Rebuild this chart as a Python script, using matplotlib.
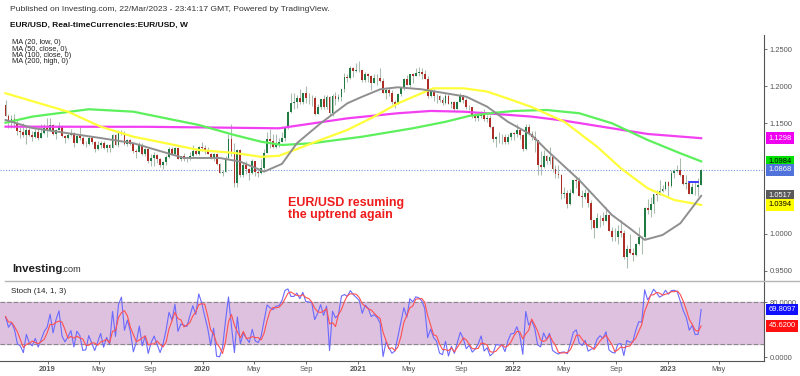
import matplotlib.pyplot as plt
import matplotlib.transforms as mtransforms
import numpy as np
import pandas as pd

plt.rcParams['font.family'] = ['Liberation Sans', 'DejaVu Sans']

# Weekly EUR/USD bars, first bar is the week of 24 Sep 2018.
first_week = '2018-09-24'
first_open = 1.1745

closes = [
    1.1605, 1.1525, 1.1560, 1.1510, 1.1400, 1.1385, 1.1335, 1.1415, 1.1340, 1.1315,
    1.1380, 1.1305, 1.1370, 1.1440, 1.1395, 1.1470, 1.1360, 1.1410, 1.1455, 1.1325,
    1.1295, 1.1335, 1.1365, 1.1235, 1.1325, 1.1300, 1.1215, 1.1218, 1.1300, 1.1245,
    1.1150, 1.1200, 1.1235, 1.1160, 1.1205, 1.1170, 1.1335, 1.1210, 1.1370, 1.1372,
    1.1225, 1.1270, 1.1220, 1.1125, 1.1110, 1.1200, 1.1090, 1.1145, 1.0990, 1.1030,
    1.1075, 1.1015, 1.0940, 1.0980, 1.1040, 1.1145, 1.1080, 1.1165, 1.1020, 1.1050,
    1.1020, 1.1015, 1.1060, 1.1120, 1.1080, 1.1175, 1.1165, 1.1120, 1.1090, 1.1025,
    1.1090, 1.0945, 1.0830, 1.0845, 1.1025, 1.1285, 1.1105, 1.0695, 1.1140, 1.0805,
    1.0935, 1.0875, 1.0820, 1.0985, 1.0840, 1.0820, 1.0900, 1.1100, 1.1290, 1.1255,
    1.1180, 1.1220, 1.1245, 1.1300, 1.1430, 1.1655, 1.1780, 1.1785, 1.1840, 1.1795,
    1.1905, 1.1840, 1.1845, 1.1840, 1.1630, 1.1715, 1.1830, 1.1715, 1.1860, 1.1645,
    1.1875, 1.1835, 1.1855, 1.1965, 1.2125, 1.2110, 1.2255, 1.2215, 1.2218, 1.2220,
    1.2080, 1.2170, 1.2135, 1.2045, 1.2120, 1.2118, 1.2075, 1.1915, 1.1950, 1.1905,
    1.1795, 1.1765, 1.1900, 1.1980, 1.2095, 1.2020, 1.2165, 1.2140, 1.2180, 1.2190,
    1.2165, 1.2105, 1.1865, 1.1935, 1.1865, 1.1875, 1.1810, 1.1770, 1.1870, 1.1760,
    1.1795, 1.1700, 1.1795, 1.1880, 1.1815, 1.1725, 1.1720, 1.1595, 1.1575, 1.1600,
    1.1645, 1.1560, 1.1570, 1.1445, 1.1290, 1.1320, 1.1315, 1.1312, 1.1240, 1.1320,
    1.1370, 1.1360, 1.1410, 1.1345, 1.1145, 1.1450, 1.1350, 1.1320, 1.1270, 1.0930,
    1.0910, 1.1050, 1.0985, 1.1045, 1.0875, 1.0810, 1.0795, 1.0545, 1.0550, 1.0410,
    1.0560, 1.0730, 1.0720, 1.0520, 1.0495, 1.0555, 1.0425, 1.0185, 1.0085, 1.0210,
    1.0220, 1.0180, 1.0260, 1.0040, 0.9965, 0.9955, 1.0040, 1.0015, 0.9690, 0.9800,
    0.9740, 0.9720, 0.9860, 0.9965, 0.9960, 1.0350, 1.0325, 1.0400, 1.0535, 1.0530,
    1.0585, 1.0615, 1.0705, 1.0645, 1.0830, 1.0855, 1.0870, 1.0795, 1.0680, 1.0695,
    1.0545, 1.0635, 1.0640, 1.0670, 1.0868,
]
highs = [
    1.1815, 1.1625, 1.1610, 1.1622, 1.1545, 1.1455, 1.1500, 1.1472, 1.1472, 1.1400,
    1.1420, 1.1445, 1.1485, 1.1485, 1.1570, 1.1570, 1.1490, 1.1420, 1.1515, 1.1470,
    1.1340, 1.1370, 1.1420, 1.1375, 1.1340, 1.1450, 1.1325, 1.1255, 1.1325, 1.1325,
    1.1265, 1.1265, 1.1265, 1.1265, 1.1215, 1.1215, 1.1350, 1.1350, 1.1410, 1.1410,
    1.1390, 1.1285, 1.1285, 1.1230, 1.1150, 1.1250, 1.1230, 1.1160, 1.1165, 1.1085,
    1.1110, 1.1080, 1.1025, 1.0990, 1.1065, 1.1180, 1.1180, 1.1175, 1.1175, 1.1055,
    1.1095, 1.1040, 1.1115, 1.1200, 1.1150, 1.1190, 1.1240, 1.1205, 1.1175, 1.1100,
    1.1095, 1.1095, 1.0965, 1.0865, 1.1055, 1.1355, 1.1495, 1.1235, 1.1150, 1.1150,
    1.0970, 1.0990, 1.0890, 1.1020, 1.0990, 1.0875, 1.1010, 1.1145, 1.1385, 1.1420,
    1.1350, 1.1350, 1.1300, 1.1375, 1.1450, 1.1660, 1.1910, 1.1915, 1.1885, 1.1965,
    1.1915, 1.2010, 1.1915, 1.1885, 1.1870, 1.1760, 1.1835, 1.1880, 1.1880, 1.1870,
    1.1890, 1.1920, 1.1895, 1.1970, 1.2175, 1.2165, 1.2275, 1.2265, 1.2310, 1.2350,
    1.2225, 1.2190, 1.2185, 1.2150, 1.2170, 1.2170, 1.2245, 1.2110, 1.1990, 1.1990,
    1.1945, 1.1810, 1.1915, 1.1995, 1.2115, 1.2150, 1.2170, 1.2180, 1.2245, 1.2265,
    1.2255, 1.2220, 1.2145, 1.1975, 1.1960, 1.1895, 1.1880, 1.1850, 1.1910, 1.1900,
    1.1805, 1.1800, 1.1805, 1.1910, 1.1885, 1.1845, 1.1750, 1.1725, 1.1640, 1.1625,
    1.1670, 1.1690, 1.1615, 1.1610, 1.1465, 1.1325, 1.1385, 1.1355, 1.1360, 1.1360,
    1.1385, 1.1375, 1.1485, 1.1425, 1.1350, 1.1485, 1.1495, 1.1395, 1.1395, 1.1275,
    1.1120, 1.1135, 1.1070, 1.1185, 1.1050, 1.0935, 1.0935, 1.0810, 1.0640, 1.0595,
    1.0605, 1.0735, 1.0785, 1.0775, 1.0600, 1.0615, 1.0615, 1.0465, 1.0190, 1.0280,
    1.0255, 1.0295, 1.0365, 1.0275, 1.0090, 1.0080, 1.0115, 1.0195, 1.0050, 0.9855,
    0.9995, 0.9810, 0.9875, 1.0095, 0.9975, 1.0365, 1.0480, 1.0495, 1.0545, 1.0595,
    1.0735, 1.0660, 1.0715, 1.0715, 1.0865, 1.0885, 1.0930, 1.1035, 1.0805, 1.0805,
    1.0705, 1.0690, 1.0700, 1.0760, 1.0885,
]
lows = [
    1.1600, 1.1430, 1.1432, 1.1430, 1.1335, 1.1300, 1.1315, 1.1215, 1.1325, 1.1265,
    1.1300, 1.1270, 1.1300, 1.1360, 1.1310, 1.1390, 1.1345, 1.1290, 1.1405, 1.1320,
    1.1235, 1.1290, 1.1330, 1.1175, 1.1230, 1.1270, 1.1210, 1.1185, 1.1210, 1.1225,
    1.1110, 1.1135, 1.1170, 1.1150, 1.1105, 1.1115, 1.1160, 1.1205, 1.1180, 1.1345,
    1.1210, 1.1195, 1.1200, 1.1100, 1.1025, 1.1105, 1.1065, 1.1050, 1.0965, 1.0925,
    1.0925, 1.0965, 1.0905, 1.0880, 1.0940, 1.1025, 1.1070, 1.1075, 1.1015, 1.0990,
    1.0990, 1.0980, 1.1000, 1.1040, 1.1065, 1.1065, 1.1125, 1.1085, 1.1085, 1.1020,
    1.0990, 1.0940, 1.0827, 1.0780, 1.0840, 1.1010, 1.1055, 1.0635, 1.0635, 1.0770,
    1.0770, 1.0815, 1.0725, 1.0810, 1.0780, 1.0775, 1.0810, 1.0870, 1.1095, 1.1170,
    1.1170, 1.1170, 1.1185, 1.1240, 1.1255, 1.1420, 1.1640, 1.1695, 1.1710, 1.1755,
    1.1755, 1.1780, 1.1755, 1.1735, 1.1610, 1.1620, 1.1690, 1.1690, 1.1690, 1.1605,
    1.1600, 1.1745, 1.1800, 1.1800, 1.1925, 1.2060, 1.2105, 1.2130, 1.2200, 1.2190,
    1.2055, 1.2055, 1.2060, 1.1950, 1.2040, 1.2025, 1.2065, 1.1910, 1.1835, 1.1875,
    1.1760, 1.1705, 1.1755, 1.1870, 1.1950, 1.2015, 1.1985, 1.2050, 1.2135, 1.2135,
    1.2105, 1.2095, 1.1845, 1.1850, 1.1805, 1.1780, 1.1795, 1.1750, 1.1765, 1.1755,
    1.1705, 1.1665, 1.1690, 1.1790, 1.1780, 1.1700, 1.1685, 1.1565, 1.1530, 1.1525,
    1.1570, 1.1535, 1.1515, 1.1435, 1.1250, 1.1185, 1.1235, 1.1225, 1.1220, 1.1225,
    1.1280, 1.1275, 1.1315, 1.1290, 1.1120, 1.1140, 1.1340, 1.1280, 1.1105, 1.0805,
    1.0805, 1.0900, 1.0945, 1.0945, 1.0835, 1.0760, 1.0760, 1.0470, 1.0490, 1.0350,
    1.0390, 1.0545, 1.0625, 1.0515, 1.0360, 1.0470, 1.0365, 1.0070, 0.9950, 1.0075,
    1.0095, 1.0125, 1.0170, 1.0035, 0.9900, 0.9910, 0.9865, 0.9955, 0.9665, 0.9535,
    0.9735, 0.9630, 0.9705, 0.9855, 0.9730, 0.9935, 1.0270, 1.0225, 1.0290, 1.0445,
    1.0525, 1.0575, 1.0595, 1.0485, 1.0640, 1.0765, 1.0835, 1.0790, 1.0670, 1.0615,
    1.0535, 1.0535, 1.0525, 1.0515, 1.0665,
]

# 13 weeks before the first bar, only used for the stochastic look-back
pre_highs = [1.1720, 1.1760, 1.1790, 1.1745, 1.1750, 1.1745, 1.1625,
             1.1455, 1.1625, 1.1735, 1.1700, 1.1720, 1.1800]
pre_lows = [1.1510, 1.1590, 1.1610, 1.1575, 1.1610, 1.1530, 1.1430,
            1.1300, 1.1420, 1.1580, 1.1525, 1.1530, 1.1620]

# moving averages (bar index, value)
ma20_weeks = [0, 9, 32, 43, 54, 60, 72, 79, 87, 93, 98, 106, 115, 120, 126, 132,
              140, 148, 155, 162, 169, 177, 182, 193, 204, 210, 215, 221, 227, 234]
ma20_vals = [1.1545, 1.1436, 1.1300, 1.1230, 1.1100, 1.1030, 1.1030, 1.0980, 1.0845,
             1.0950, 1.1229, 1.1500, 1.1771, 1.1860, 1.1960, 1.1988, 1.1960, 1.1907,
             1.1860, 1.1725, 1.1520, 1.1340, 1.1138, 1.0730, 1.0257, 1.0077, 0.9920,
             0.9986, 1.0145, 1.0517]
ma50_weeks = [0, 21, 32, 43, 54, 65, 77, 86, 92, 99, 103, 115, 124, 132, 140, 144,
              154, 162, 170, 177, 188, 199, 207, 216, 225, 234]
ma50_vals = [1.1907, 1.1657, 1.1454, 1.1318, 1.1229, 1.1138, 1.1098, 1.1045, 1.1060,
             1.1165, 1.1229, 1.1410, 1.1590, 1.1770, 1.1907, 1.1974, 1.1974, 1.1930,
             1.1820, 1.1720, 1.1520, 1.1183, 1.0890, 1.0619, 1.0460, 1.0394]
ma100_weeks = [0, 9, 28, 43, 54, 65, 77, 86, 93, 103, 120, 137, 148, 156, 165, 171,
               182, 193, 204, 216, 227, 234]
ma100_vals = [1.1508, 1.1590, 1.1690, 1.1657, 1.1567, 1.1477, 1.1341, 1.1250, 1.1206,
              1.1229, 1.1318, 1.1432, 1.1520, 1.1600, 1.1644, 1.1667, 1.1680, 1.1636,
              1.1500, 1.1274, 1.1093, 1.0984]
ma200_weeks = [0, 48, 75, 92, 115, 132, 143, 154, 165, 177, 188, 204, 216, 234]
ma200_vals = [1.1454, 1.1452, 1.1440, 1.1432, 1.1567, 1.1636, 1.1667, 1.1657, 1.1626,
              1.1590, 1.1535, 1.1432, 1.1355, 1.1298]

# short horizontal level drawn near the last bars
level_weeks = [230, 233]
level_value = 1.0700

# stochastic readouts shown on the right scale
stoch_k_last = 69.8097
stoch_d_last = 45.6200

price_ticks = [0.95, 1.0, 1.15, 1.20, 1.25]
stoch_ticks = [0, 80]

tick_dates = ['2019-01-01', '2019-05-01', '2019-09-01', '2020-01-01', '2020-05-01',
              '2020-09-01', '2021-01-01', '2021-05-01', '2021-09-01', '2022-01-01',
              '2022-05-01', '2022-09-01', '2023-01-01', '2023-05-01']
tick_labels = ['2019', 'May', 'Sep', '2020', 'May', 'Sep', '2021', 'May', 'Sep',
               '2022', 'May', 'Sep', '2023', 'May']

c = np.array(closes)
h = np.array(highs)
l = np.array(lows)
o = np.r_[first_open, c[:-1]]  # weekly FX bars open at the previous close
dates = pd.date_range(first_week, periods=len(c), freq='7D')

# Stoch(14, 1, 3)
hi_all = pd.Series(pre_highs + highs)
lo_all = pd.Series(pre_lows + lows)
hh = hi_all.rolling(14).max().to_numpy()[len(pre_highs):]
ll = lo_all.rolling(14).min().to_numpy()[len(pre_lows):]
k = 100 * (c - ll) / (hh - ll)
d = pd.Series(k).rolling(3, min_periods=1).mean().to_numpy()

W, H = 800, 376
fig = plt.figure(figsize=(8, 3.76), dpi=100)
fig.patch.set_facecolor('white')


def fx(px):
    return px / W


def fy(py):
    return 1 - py / H


ax = fig.add_axes([0, fy(281), fx(764), (281 - 35) / H])
ax2 = fig.add_axes([0, fy(360.7), fx(764), (360.7 - 281) / H], sharex=ax)

# candles
up = c >= o
ax.vlines(dates, l, h, color='#a9bcae', lw=0.75, zorder=2)
ax.bar(dates[up], (c - o)[up], bottom=o[up], width=4.3, color='#1f7a44', zorder=3)
ax.bar(dates[~up], (c - o)[~up], bottom=o[~up], width=4.3, color='#ad2d27', zorder=3)

# moving averages
ax.plot(dates[ma200_weeks], ma200_vals, color='#f23ff2', lw=1.6, zorder=4)
ax.plot(dates[ma100_weeks], ma100_vals, color='#5cf05c', lw=1.6, zorder=4)
ax.plot(dates[ma50_weeks], ma50_vals, color='#ffff3a', lw=1.6, zorder=4)
ax.plot(dates[ma20_weeks], ma20_vals, color='#8f8f8f', lw=1.4, zorder=4)

ax.axhline(c[-1], color='#7b96e6', lw=0.8, ls=(0, (1, 1.5)), zorder=1)
ax.plot(dates[level_weeks], [level_value] * 2, color='#1a1aff', lw=1.2, zorder=5)

ax.set_xlim(pd.Timestamp('2018-09-11'), pd.Timestamp('2023-08-15'))
ax.set_ylim(0.9363, 1.2696)
for s in ['top', 'left', 'bottom']:
    ax.spines[s].set_visible(False)
ax.spines['right'].set_color('#555555')
ax.spines['right'].set_linewidth(0.8)
ax.yaxis.tick_right()
ax.set_yticks(price_ticks)
ax.set_yticklabels([f'{v:.4f}' for v in price_ticks])
ax.tick_params(axis='y', labelsize=5.4, length=2, width=0.6, colors='#555555', pad=2)
ax.tick_params(axis='x', bottom=False, labelbottom=False)

blend = mtransforms.blended_transform_factory(ax.transAxes, ax.transData)
main_tags = [
    (ma200_vals[-1], '#f000f0', 'white'),
    (ma100_vals[-1], '#00e000', 'black'),
    (c[-1], '#4f73da', 'white'),
    (ma20_vals[-1], '#5a5a5a', 'white'),
    (ma50_vals[-1], '#ffff00', 'black'),
]
for val, bg, tc in main_tags:
    ax.text(1.006, val, f'{val:.4f}', transform=blend, fontsize=5.4, color=tc,
            ha='left', va='center', clip_on=False, zorder=10,
            bbox=dict(boxstyle='square,pad=0.3', fc=bg, ec='none'))

# stochastic panel
ax2.axhspan(20, 80, color='#dec1df', zorder=0)
ax2.axhline(80, color='#888888', lw=0.8, ls=(0, (4, 2)), zorder=1)
ax2.axhline(20, color='#888888', lw=0.8, ls=(0, (4, 2)), zorder=1)
ax2.plot(dates, k, color='#6a6aff', lw=0.8, zorder=3)
ax2.plot(dates, d, color='#ff5050', lw=0.8, zorder=3)
ax2.set_ylim(-4.9, 111)
for s in ['top', 'left']:
    ax2.spines[s].set_visible(False)
for s in ['right', 'bottom']:
    ax2.spines[s].set_color('#555555')
    ax2.spines[s].set_linewidth(0.8)
ax2.yaxis.tick_right()
ax2.set_yticks(stoch_ticks)
ax2.set_yticklabels([f'{v:.4f}' for v in stoch_ticks])
ax2.tick_params(axis='y', labelsize=5.4, length=2, width=0.6, colors='#555555', pad=2)
ax2.set_xticks(pd.to_datetime(tick_dates))
ax2.set_xticklabels(tick_labels)
ax2.tick_params(axis='x', labelsize=5.4, length=2, width=0.6, colors='#555555', pad=2)
for lab in ax2.get_xticklabels():
    if lab.get_text().isdigit():
        lab.set_fontweight('bold')

blend2 = mtransforms.blended_transform_factory(ax2.transAxes, ax2.transData)
for val, bg in [(stoch_k_last, '#1010ff'), (stoch_d_last, '#ff1010')]:
    ax2.text(1.006, val, f'{val:.4f}', transform=blend2, fontsize=5.4, color='white',
             ha='left', va='center', clip_on=False, zorder=10,
             bbox=dict(boxstyle='square,pad=0.3', fc=bg, ec='none'))

ax2.text(fx(12), 0.87, 'Stoch (14, 1, 3)', transform=ax2.transAxes, fontsize=5.8,
         color='#222222', ha='left', va='center')

# panel separator
fig.add_artist(plt.Line2D([fx(5), 1], [fy(281), fy(281)], color='#b5b5b5', lw=1))

# header
fig.text(fx(10), fy(9.5), 'Published on Investing.com, 22/Mar/2023 - 23:41:17 GMT, '
         'Powered by TradingView.', fontsize=6.1, color='#333333', va='center')
fig.text(fx(10), fy(25), 'EUR/USD, Real-timeCurrencies:EUR/USD, W', fontsize=6.0,
         fontweight='bold', color='#111111', va='center')
for i, line in enumerate(['MA (20, low, 0)', 'MA (50, close, 0)',
                          'MA (100, close, 0)', 'MA (200, high, 0)']):
    fig.text(fx(12), fy(43 + 6.2 * i), line, fontsize=5.3, color='#222222', va='center')

# logo
fig.text(fx(12), fy(272), 'Investing', fontsize=8.2, fontweight='bold', color='#1d1d1d',
         va='baseline')
fig.text(fx(61), fy(272), '.com', fontsize=6.6, color='#333333', va='baseline')

fig.text(fx(288), fy(209), 'EUR/USD resuming\nthe uptrend again', fontsize=9,
         fontweight='bold', color='#ee1c1c', va='center', ha='left', linespacing=1.05)

fig.savefig('out.png', dpi=100, facecolor='white')
